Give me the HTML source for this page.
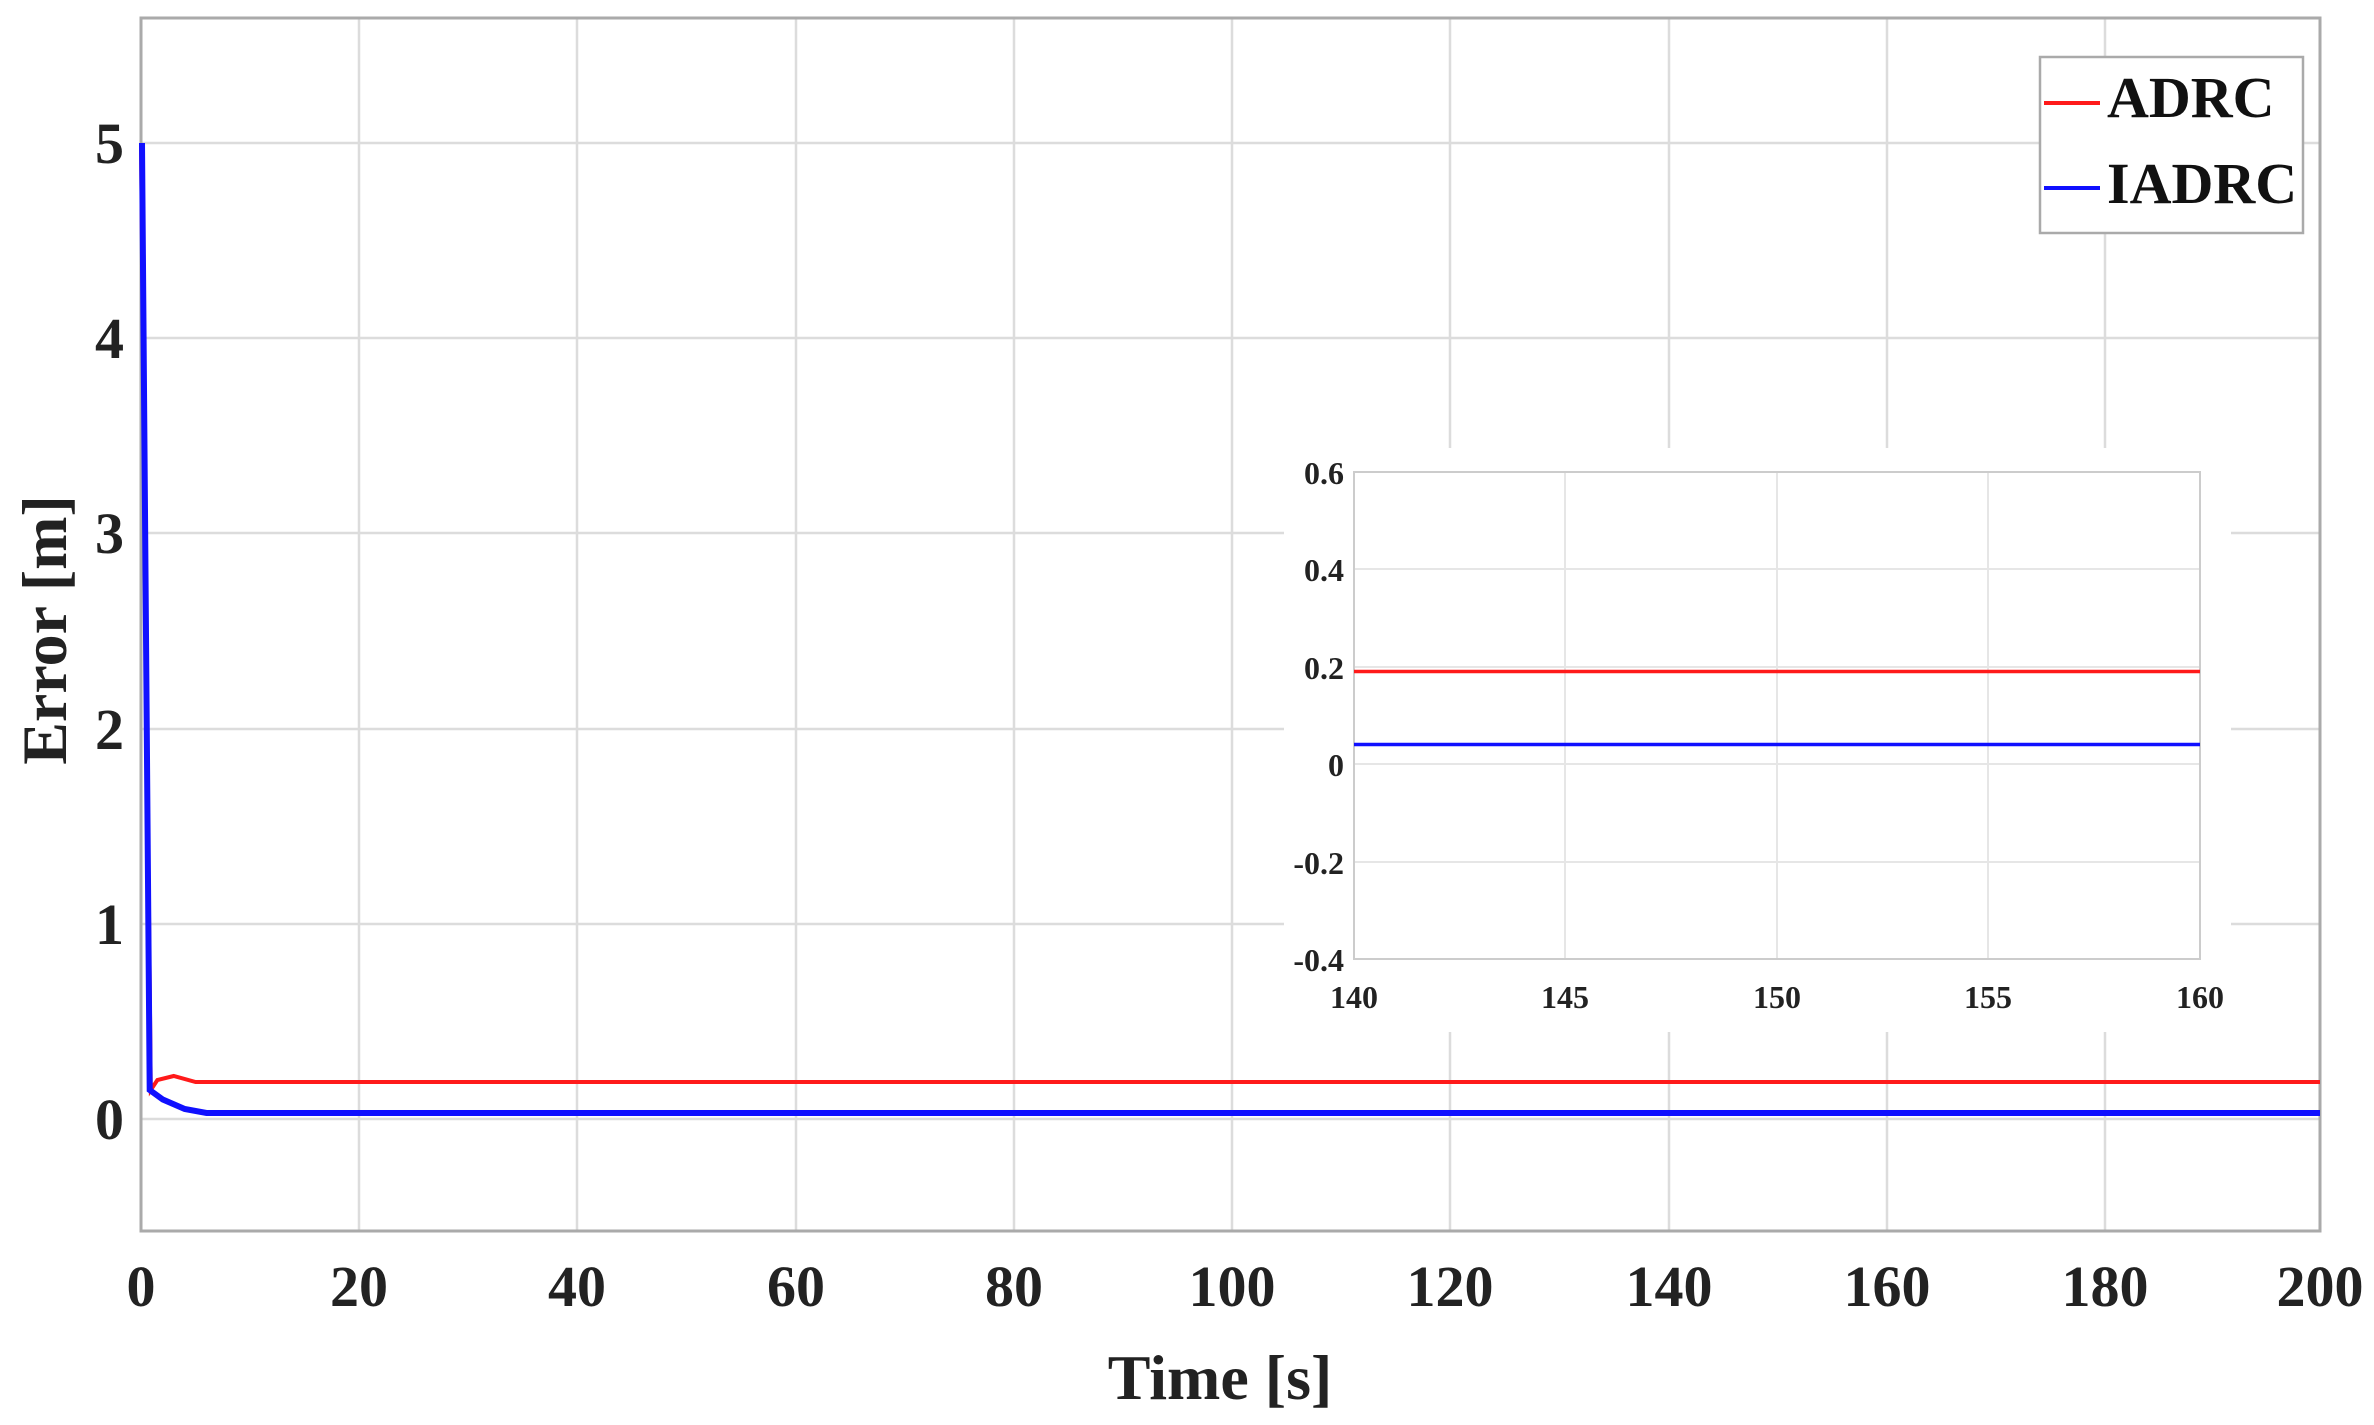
<!DOCTYPE html>
<html><head><meta charset="utf-8"><style>html,body{margin:0;padding:0;background:#fff}svg{display:block}</style></head>
<body>
<svg width="2374" height="1425" viewBox="0 0 2374 1425" xmlns="http://www.w3.org/2000/svg" font-family="Liberation Serif, serif" font-weight="bold" fill="#222">
<rect width="2374" height="1425" fill="#fff"/>
<g stroke="#dcdcdc" stroke-width="2.5">
<line x1="359" y1="18" x2="359" y2="1231"/><line x1="577" y1="18" x2="577" y2="1231"/><line x1="796" y1="18" x2="796" y2="1231"/><line x1="1014" y1="18" x2="1014" y2="1231"/><line x1="1232" y1="18" x2="1232" y2="1231"/><line x1="1450" y1="18" x2="1450" y2="1231"/><line x1="1669" y1="18" x2="1669" y2="1231"/><line x1="1887" y1="18" x2="1887" y2="1231"/><line x1="2105" y1="18" x2="2105" y2="1231"/>
<line x1="141" y1="143" x2="2320" y2="143"/><line x1="141" y1="338" x2="2320" y2="338"/><line x1="141" y1="533" x2="2320" y2="533"/><line x1="141" y1="729" x2="2320" y2="729"/><line x1="141" y1="924" x2="2320" y2="924"/><line x1="141" y1="1119" x2="2320" y2="1119"/>
</g>
<rect x="141" y="18" width="2179" height="1213" fill="none" stroke="#aaa" stroke-width="3"/>
<polyline fill="none" stroke="#ff1a1a" stroke-width="4" points="141,143 150.8,1090 157.4,1080 173.7,1076 195.6,1082 2320,1082"/>
<polyline fill="none" stroke="#1010ff" stroke-width="6" points="142,143 149.7,1090 162.8,1099.5 184.7,1109 206.5,1113 2320,1113"/>
<g font-size="58" text-anchor="middle">
<text x="141" y="1306">0</text><text x="359" y="1306">20</text><text x="577" y="1306">40</text><text x="796" y="1306">60</text><text x="1014" y="1306">80</text><text x="1232" y="1306">100</text><text x="1450" y="1306">120</text><text x="1669" y="1306">140</text><text x="1887" y="1306">160</text><text x="2105" y="1306">180</text><text x="2320" y="1306">200</text>
</g>
<g font-size="58" text-anchor="end">
<text x="124" y="163">5</text><text x="124" y="358">4</text><text x="124" y="553">3</text><text x="124" y="749">2</text><text x="124" y="944">1</text><text x="124" y="1139">0</text>
</g>
<text x="1220" y="1399" font-size="64" text-anchor="middle">Time [s]</text>
<text transform="translate(66,630) rotate(-90)" font-size="64" text-anchor="middle">Error [m]</text>
<rect x="2040" y="57" width="263" height="176" fill="#fff" stroke="#aaa" stroke-width="2.5"/>
<line x1="2044" y1="103" x2="2100" y2="103" stroke="#ff1a1a" stroke-width="4"/>
<line x1="2044" y1="188" x2="2100" y2="188" stroke="#1010ff" stroke-width="4"/>
<text x="2107" y="117" font-size="58" fill="#111">ADRC</text>
<text x="2107" y="203" font-size="58" fill="#111">IADRC</text>
<rect x="1284" y="448" width="947" height="584" fill="#fff"/>
<g stroke="#e6e6e6" stroke-width="2">
<line x1="1565" y1="472" x2="1565" y2="959"/><line x1="1777" y1="472" x2="1777" y2="959"/><line x1="1988" y1="472" x2="1988" y2="959"/>
<line x1="1354" y1="569" x2="2200" y2="569"/><line x1="1354" y1="667" x2="2200" y2="667"/><line x1="1354" y1="764" x2="2200" y2="764"/><line x1="1354" y1="862" x2="2200" y2="862"/>
</g>
<rect x="1354" y="472" width="846" height="487" fill="none" stroke="#ccc" stroke-width="2"/>
<line x1="1354" y1="671.5" x2="2200" y2="671.5" stroke="#ff1a1a" stroke-width="3.5"/>
<line x1="1354" y1="744.5" x2="2200" y2="744.5" stroke="#1010ff" stroke-width="3.5"/>
<g font-size="32" text-anchor="end">
<text x="1344" y="484">0.6</text><text x="1344" y="581">0.4</text><text x="1344" y="679">0.2</text><text x="1344" y="776">0</text><text x="1344" y="874">-0.2</text><text x="1344" y="971">-0.4</text>
</g>
<g font-size="32" text-anchor="middle">
<text x="1354" y="1008">140</text><text x="1565" y="1008">145</text><text x="1777" y="1008">150</text><text x="1988" y="1008">155</text><text x="2200" y="1008">160</text>
</g>
</svg>
</body></html>
